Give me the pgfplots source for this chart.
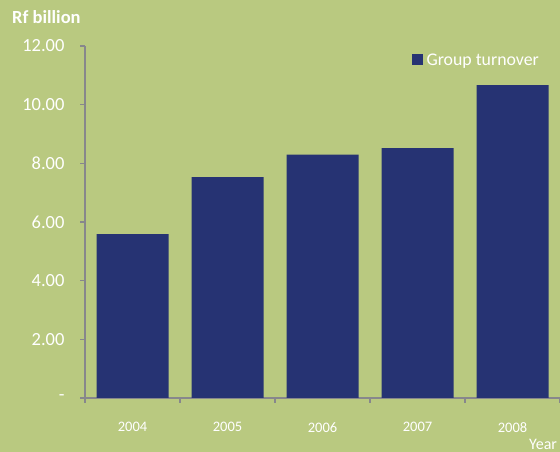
\documentclass[border=0pt]{standalone}
\usepackage{pgfplots}
\pgfplotsset{compat=1.18}
\usepackage{fontspec}
\setmainfont{Carlito}
\definecolor{bg}{RGB}{185,201,128}
\definecolor{bar}{RGB}{38,51,115}
\definecolor{axgray}{RGB}{135,135,140}
\begin{document}
\begin{tikzpicture}[x=1pt,y=1pt]
\fill[bg] (0,0) rectangle (560,452);
\clip (0,0) rectangle (560,452);
\useasboundingbox (0,0) rectangle (560,452);
\begin{axis}[
  at={(85pt,54pt)}, anchor=south west,
  scale only axis, width=475pt, height=352pt,
  xmin=-0.5, xmax=4.5, ymin=0, ymax=12,
  axis x line=bottom, axis y line=left,
  axis line style={axgray, line width=1.2pt, -},
  xtick={-0.5,0.5,1.5,2.5,3.5,4.5},
  x tick label as interval,
  xticklabels={2004,2005,2006,2007,2008},
  ytick={0,2,4,6,8,10,12},
  yticklabels={-,2.00,4.00,6.00,8.00,10.00,12.00},
  tick align=outside,
  major tick length=5pt,
  tick style={axgray, line width=1.2pt},
  ticklabel style={white},
  x tick label style={font=\fontsize{14.5}{16}\selectfont, yshift=-16pt},
  y tick label style={font=\fontsize{18.5}{20}\selectfont, xshift=-12pt},
  /pgf/number format/assume math mode=true,
  ybar, bar width=72pt,
  legend style={at={(rel axis cs:0.687,0.985)}, anchor=north west, draw=none, fill=none,
    font=\fontsize{17.8}{19}\selectfont\color{white}, inner sep=0pt},
  legend image code/.code={\fill[bar] (0pt,-5pt) rectangle (11pt,6pt);},
  legend cell align=left,
]
\addplot[fill=bar, draw=none] coordinates {(0,5.59) (1,7.53) (2,8.30) (3,8.52) (4,10.67)};
\addlegendentry{\hspace{2pt}Group turnover}
\end{axis}
\node[anchor=west, white, font=\bfseries\fontsize{18.5}{20}\selectfont, inner sep=0pt] at (12,435) {Rf billion};
\node[anchor=west, white, font=\fontsize{16}{18}\selectfont, inner sep=0pt] at (529,8) {Year};
\end{tikzpicture}
\end{document}
